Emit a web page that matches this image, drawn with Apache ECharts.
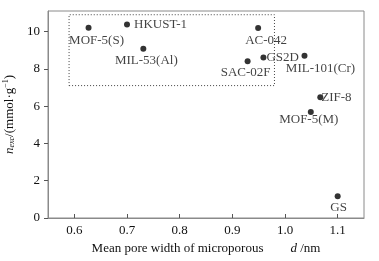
<!DOCTYPE html>
<html><head><meta charset="utf-8">
<script src="https://cdn.jsdelivr.net/npm/echarts@6/dist/echarts.min.js"></script>
<style>html,body{margin:0;padding:0;background:#fff}#c{width:379px;height:261px}</style>
</head><body><div id="c"></div>
<script>
const names = ['MOF-5(S)','HKUST-1','MIL-53(Al)','AC-042','GS2D','SAC-02F','MIL-101(Cr)','ZIF-8','MOF-5(M)','GS'];
const poreWidth = [0.627,0.700,0.731,0.949,0.959,0.929,1.037,1.067,1.049,1.100];
const nExc = [10.20,10.37,9.08,10.19,8.61,8.40,8.70,6.47,5.69,1.16];
const xTicks = [0.6,0.7,0.8,0.9,1.0,1.1];
const yTicks = [0,2,4,6,8,10];
const boxCorners = [[0.59,7.1],[0.98,10.9]];

// label placement (style)
const labelStyle = {
  'MOF-5(S)':   {align:'center', offset:[8,13]},
  'HKUST-1':    {align:'left', offset:[7,0]},
  'MIL-53(Al)': {align:'center', offset:[3,12]},
  'AC-042':     {align:'center', offset:[8,13]},
  'GS2D':       {align:'left', offset:[3,0]},
  'SAC-02F':    {align:'center', offset:[-2,11]},
  'MIL-101(Cr)':{align:'center', offset:[16,13]},
  'ZIF-8':      {align:'left', offset:[1,0]},
  'MOF-5(M)':   {align:'center', offset:[-2,8]},
  'GS':         {align:'center', offset:[1,11]}
};
const font = 'Liberation Serif';
const txt = '#111';
const data = names.map((n,i)=>({
  value:[poreWidth[i], nExc[i]], name:n,
  label:{show:true, position:'inside', formatter:n, align:labelStyle[n].align,
         verticalAlign:'middle', offset:labelStyle[n].offset,
         fontFamily:font, fontSize:13, color:txt}
}));
const chart = echarts.init(document.getElementById('c'), null, {renderer:'canvas'});
chart.setOption({
  animation:false,
  grid:{left:48, right:15, top:11, bottom:43, show:true, borderColor:'#8a8a8a', borderWidth:1,
        containLabel:false, outerBoundsMode:'none'},
  xAxis:{type:'value', min:0.55, max:1.15, interval:0.1,
    axisLine:{show:true, onZero:false, lineStyle:{color:'#8a8a8a'}},
    axisTick:{show:true, inside:true, length:4, lineStyle:{color:'#555'},
      customValues: xTicks},
    axisLabel:{customValues: xTicks, formatter:v=>v.toFixed(1), fontFamily:font, fontSize:13, color:txt, margin:6},
    splitLine:{show:false},
    name:'{a|Mean pore width of microporous}{d|d}{b| /nm}', nameLocation:'middle', nameGap:24,
    nameTextStyle:{rich:{
      a:{fontFamily:font, fontSize:13, color:txt},
      d:{fontFamily:font, fontSize:13, fontStyle:'italic', color:txt, padding:[0,0,0,27]},
      b:{fontFamily:font, fontSize:13, color:txt}
    }}
  },
  yAxis:{type:'value', min:0, max:11.1, interval:2,
    axisLine:{show:true, lineStyle:{color:'#8a8a8a'}},
    axisTick:{show:true, inside:false, length:4, lineStyle:{color:'#555'}, customValues:yTicks},
    axisLabel:{customValues:yTicks, fontFamily:font, fontSize:13, color:txt, margin:8},
    splitLine:{show:false},
    name:'{n|n}{s|exc}{a|/(mmol·g}{p|−1}{a|)}', nameLocation:'middle', nameGap:25, nameRotate:90,
    nameTextStyle:{rich:{
      n:{fontFamily:font, fontSize:13, fontStyle:'italic', color:txt},
      s:{fontFamily:font, fontSize:8, fontStyle:'italic', color:txt, verticalAlign:'bottom', lineHeight:8, padding:[6,0,0,0]},
      a:{fontFamily:font, fontSize:13, color:txt},
      p:{fontFamily:font, fontSize:8, color:txt, verticalAlign:'top', padding:[0,0,6,0]}
    }}
  },
  series:[{
    type:'scatter', symbol:'circle', symbolSize:6,
    itemStyle:{color:'#000'},
    data:data,
    markArea:{silent:true,
      itemStyle:{color:'rgba(0,0,0,0)', borderColor:'#444', borderWidth:1, borderType:[1,2]},
      data:[[{coord:boxCorners[0]},{coord:boxCorners[1]}]]
    }
  }]
});
</script></body></html>
